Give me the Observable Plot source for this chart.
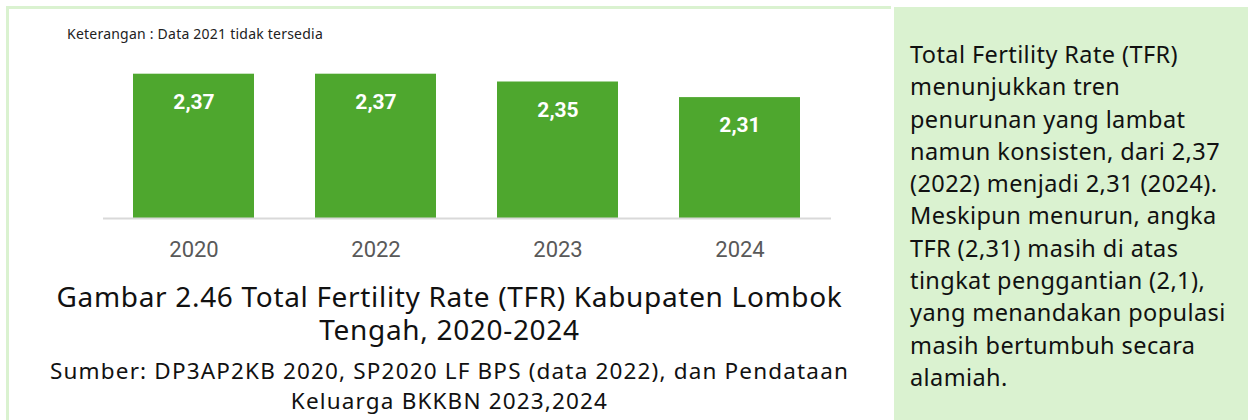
<!DOCTYPE html>
<html>
<head>
<meta charset="utf-8">
<script src="https://cdn.jsdelivr.net/npm/d3@7"></script>
<script src="https://cdn.jsdelivr.net/npm/@observablehq/plot@0.6"></script>
<style>
  html, body { margin: 0; padding: 0; background: #ffffff; width: 1248px; height: 420px; overflow: hidden; }
  #leftpanel { position: absolute; left: 6px; top: 6px; width: 885px; height: 420px; border-top: 3px solid #daf2d0; border-left: 3px solid #daf2d0; box-sizing: border-box; }
  #rightpanel { position: absolute; left: 894px; top: 7px; width: 354px; height: 413px; background: #daf2d0; }
  #rightpanel .txt { position: absolute; left: 16px; top: 31px; font-family: "Noto Sans", sans-serif; font-size: 23.5px; line-height: 32.3px; color: #111; white-space: pre; }
  #chart { position: absolute; left: 0; top: 0; }
  #note { position: absolute; left: 67px; top: 24px; line-height: 20px; font-family: "Noto Sans", sans-serif; font-size: 14px; color: #222; white-space: nowrap; }
  .cap { position: absolute; left: 0; width: 899px; text-align: center; font-family: "Noto Sans", sans-serif; color: #111; white-space: pre; }
</style>
</head>
<body>
<div id="leftpanel"></div>
<div id="rightpanel"><div class="txt" id="desc"></div></div>
<div id="chart"></div>
<div id="note"></div>
<div class="cap" id="title" style="top:280px;line-height:33px;font-size:28px;"></div>
<div class="cap" id="source" style="top:356px;line-height:30px;font-size:22.5px;"></div>
<script>
const years = ["2020", "2022", "2023", "2024"];
const tfr = [2.37, 2.37, 2.35, 2.31];
const yMin = 2.0;
const yMax = 2.4;
const noteText = "Keterangan : Data 2021 tidak tersedia";
const titleLines = ["Gambar 2.46 Total Fertility Rate (TFR) Kabupaten Lombok", "Tengah, 2020-2024"];
const sourceLines = ["Sumber: DP3AP2KB 2020, SP2020 LF BPS (data 2022), dan Pendataan", "Keluarga BKKBN 2023,2024"];
const descLines = [
  "Total Fertility Rate (TFR)",
  "menunjukkan tren",
  "penurunan yang lambat",
  "namun konsisten, dari 2,37",
  "(2022) menjadi 2,31 (2024).",
  "Meskipun menurun, angka",
  "TFR (2,31) masih di atas",
  "tingkat penggantian (2,1),",
  "yang menandakan populasi",
  "masih bertumbuh secara",
  "alamiah."
];

const data = years.map((y, i) => ({year: y, value: tfr[i], label: tfr[i].toFixed(2).replace(".", ",")}));

const chart = Plot.plot({
  width: 895,
  height: 270,
  marginLeft: 103,
  marginRight: 64,
  marginTop: 62,
  marginBottom: 52,
  style: {background: "transparent", fontFamily: "Roboto, sans-serif"},
  x: {domain: years, paddingInner: 0.335, paddingOuter: 0.1675, label: null, tickSize: 0, tickPadding: 23},
  y: {domain: [yMin, yMax], axis: null},
  marks: [
    Plot.barY(data, {x: "year", y1: () => yMin, y2: "value", fill: "#4ea72e"}),
    Plot.ruleY([yMin], {stroke: "#d9d9d9", strokeWidth: 2}),
    Plot.text(data, {x: "year", y: "value", text: "label", dy: 28, fill: "#ffffff", fontWeight: "bold", fontSize: 21, fontFamily: "Roboto, sans-serif"})
  ]
});
chart.querySelectorAll("g[aria-label='x-axis tick label']").forEach(el => {
  el.setAttribute("font-size", "22");
  el.setAttribute("fill", "#595959");
});
document.getElementById("chart").appendChild(chart);
document.getElementById("note").textContent = noteText;
document.getElementById("title").textContent = titleLines.join("\n");
document.getElementById("source").textContent = sourceLines.join("\n");
document.getElementById("desc").textContent = descLines.join("\n");

// letter-spacing to emulate the wider original typeface
const ctx = document.createElement("canvas").getContext("2d");
function spacingFor(el, text, target) {
  const cs = getComputedStyle(el);
  ctx.font = `${cs.fontWeight} ${cs.fontSize} ${cs.fontFamily}`;
  const w = ctx.measureText(text).width;
  return (target - w) / text.length;
}
const noteEl = document.getElementById("note");
noteEl.style.letterSpacing = spacingFor(noteEl, noteText, 256) + "px";
const t = document.getElementById("title");
t.style.letterSpacing = spacingFor(t, titleLines[0], 786) + "px";
const s = document.getElementById("source");
s.style.letterSpacing = spacingFor(s, sourceLines[0], 799) + "px";
const d = document.getElementById("desc");
d.style.letterSpacing = spacingFor(d, descLines[3], 310) + "px";
</script>
</body>
</html>
